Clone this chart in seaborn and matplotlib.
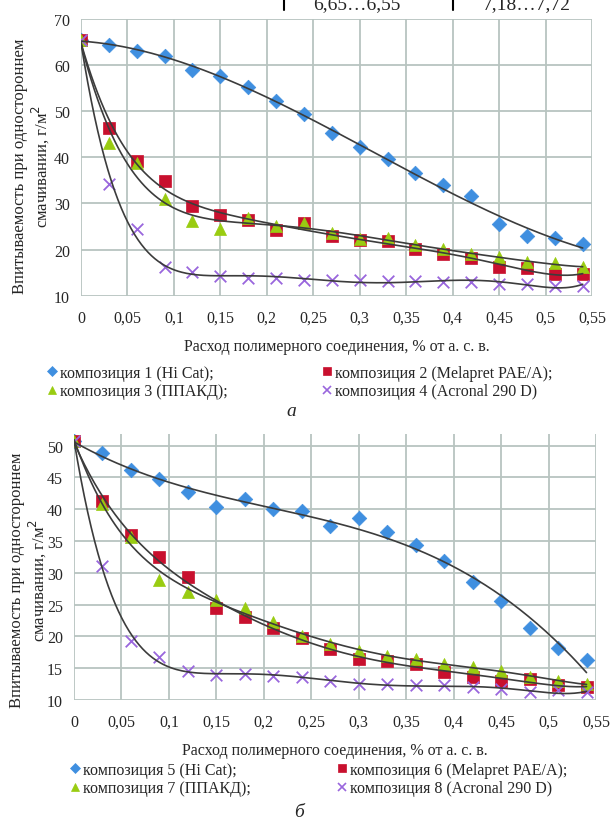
import numpy as np
import pandas as pd
import matplotlib
matplotlib.use("Agg")
import matplotlib.pyplot as plt
import seaborn as sns
from matplotlib.lines import Line2D

sns.set_style("white")
plt.rcParams['font.family'] = ['Liberation Serif', 'DejaVu Serif']

# Расход полимерного соединения, % от а. с. в.
x_vals = [0, 0.03, 0.06, 0.09, 0.12, 0.15, 0.18, 0.21, 0.24, 0.27,
          0.30, 0.33, 0.36, 0.39, 0.42, 0.45, 0.48, 0.51, 0.54]

# panel а
comp1 = [65.5, 64.4, 63.1, 62.0, 59.0, 57.6, 55.3, 52.2, 49.3, 45.3,
         42.2, 39.7, 36.6, 34.1, 31.7, 25.6, 23.0, 22.4, 21.3]
comp2 = [65.5, 46.4, 39.1, 34.8, 29.5, 27.4, 26.5, 24.2, 25.8, 22.9,
         22.0, 21.8, 20.2, 19.1, 18.2, 16.2, 15.9, 14.8, 14.6]
comp3 = [65.5, 43.1, 38.8, 31.0, 26.2, 24.5, 26.8, 25.2, 25.8, 23.6,
         22.2, 22.4, 21.0, 20.2, 19.1, 18.4, 17.3, 17.0, 16.2]
comp4 = [65.5, 34.3, 24.5, 16.2, 15.1, 14.3, 13.8, 13.8, 13.5, 13.3,
         13.3, 13.2, 13.2, 13.0, 13.0, 12.6, 12.6, 12.2, 12.2]

# panel б
comp5 = [50.8, 48.85, 46.2, 44.8, 42.7, 40.3, 41.6, 40.05, 39.8, 37.4,
         38.7, 36.4, 34.3, 31.9, 28.6, 25.5, 21.3, 18.15, 16.35]
comp6 = [50.8, 41.35, 36.0, 32.45, 29.3, 24.5, 23.0, 21.3, 19.7, 18.0,
         16.5, 16.2, 15.7, 14.4, 13.6, 13.05, 13.3, 12.3, 12.0]
comp7 = [50.8, 40.8, 35.6, 28.9, 26.95, 25.8, 24.4, 22.2, 20.1, 18.8,
         17.75, 16.95, 16.45, 15.7, 15.15, 14.6, 13.6, 13.05, 12.5]
comp8 = [50.8, 31.1, 19.25, 16.8, 14.5, 13.95, 14.1, 13.85, 13.6, 13.05,
         12.5, 12.5, 12.3, 12.3, 12.0, 11.75, 11.2, 11.5, 11.2]

names_a = ['композиция 1 (Hi Cat);', 'композиция 2 (Melapret PAE/A);',
           'композиция 3 (ППАКД);', 'композиция 4 (Acronal 290 D)']
names_b = ['композиция 5 (Hi Cat);', 'композиция 6 (Melapret PAE/A);',
           'композиция 7 (ППАКД);', 'композиция 8 (Acronal 290 D)']

x_ticks = [0, 0.05, 0.1, 0.15, 0.2, 0.25, 0.3, 0.35, 0.4, 0.45, 0.5, 0.55]
x_ticklabels = ['0', '0,05', '0,1', '0,15', '0,2', '0,25', '0,3', '0,35',
                '0,4', '0,45', '0,5', '0,55']

colors = ['#3f8fe0', '#c8102e', '#99cc11', '#9966dd']
markers = ['D', 's', '^', 'x']
msizes = [55, 75, 75, 70]
poly_deg = {'a': [3, 6, 6, 6], 'b': [3, 6, 6, 6]}

grid_c = '#b8c4c0'
FS = 11.5


def draw_panel(ax, series, degs, ylim, yticks, label_xy):
    for i, vals in enumerate(series):
        df = pd.DataFrame({'x': x_vals, 'y': vals})
        sns.scatterplot(data=df, x='x', y='y', ax=ax, marker=markers[i],
                        s=msizes[i], color=colors[i],
                        edgecolor=colors[i] if markers[i] != 'x' else None,
                        linewidth=1.3 if markers[i] == 'x' else 0.5,
                        zorder=3, legend=False)
        # polynomial trend line like in Excel
        p = np.polynomial.Polynomial.fit(x_vals, vals, degs[i])
        xs = np.linspace(x_vals[0], x_vals[-1], 300)
        sns.lineplot(x=xs, y=p(xs), ax=ax, color='#3c3c3c', lw=1.2,
                     zorder=4, legend=False)

    ax.set_xlim(0, 0.55)
    ax.set_ylim(*ylim)
    ax.set_xticks(x_ticks)
    ax.set_xticklabels(x_ticklabels)
    ax.set_yticks(yticks)
    ax.grid(True, color=grid_c, lw=1.3)
    for s in ax.spines.values():
        s.set_visible(False)
    ax.tick_params(axis='both', length=4, width=1.3, color=grid_c,
                   labelsize=FS, pad=4, direction='out')
    ax.tick_params(axis='x', pad=6)
    ax.set_xlabel('Расход полимерного соединения, % от а. с. в.',
                  fontsize=FS, labelpad=9)
    ax.set_ylabel('Впитываемость при одностороннем\nсмачивании, г/м$^2$',
                  fontsize=12, linespacing=1.05)
    ax.yaxis.set_label_coords(*label_xy)

    handles = [Line2D([], [], ls='none', marker=markers[i], color=colors[i],
                      markersize=6 if markers[i] != 'D' else 5,
                      markeredgewidth=1.2 if markers[i] == 'x' else 0.5)
               for i in range(4)]
    return handles


fig = plt.figure(figsize=(6.11, 8.2), dpi=100)
ax1 = fig.add_axes([81 / 611, 1 - 296.7 / 820, 511 / 611, 276.8 / 820])
ax2 = fig.add_axes([74 / 611, 1 - 701 / 820, 522 / 611, 265.8 / 820])

h1 = draw_panel(ax1, [comp1, comp2, comp3, comp4], poly_deg['a'],
                (10, 70), [10, 20, 30, 40, 50, 60, 70], (-0.059, 0.472))
h2 = draw_panel(ax2, [comp5, comp6, comp7, comp8], poly_deg['b'],
                (10, 51.8), [10, 15, 20, 25, 30, 35, 40, 45, 50], (-0.05, 0.455))

# legends: two columns, order 1,3 | 2,4
for handles, names, y0, x0, cs in [(h1, names_a, 1 - 366 / 820, 47 / 611, 5.93),
                                   (h2, names_b, 1 - 763 / 820, 70 / 611, 5.43)]:
    order = [0, 2, 1, 3]
    fig.legend([handles[k] for k in order], [names[k] for k in order],
               loc='upper left', bbox_to_anchor=(x0, y0), ncol=2,
               frameon=False, fontsize=FS, handlelength=0.6,
               handletextpad=0.2, columnspacing=cs, labelspacing=0.14,
               borderpad=0, borderaxespad=0)

fig.text(291 / 611, 1 - 412 / 820, 'а', fontsize=14, style='italic',
         ha='center', va='center')
fig.text(299 / 611, 1 - 813 / 820, 'б', fontsize=14, style='italic',
         ha='center', va='center')

# clipped table row at the very top
fig.text(357 / 611, 1 - 9 / 820, '6,65…6,55', fontsize=14, ha='center',
         va='baseline')
fig.text(527 / 611, 1 - 9 / 820, '7,18…7,72', fontsize=14, ha='center',
         va='baseline')
for xp in [284, 453]:
    fig.add_artist(Line2D([xp / 611, xp / 611], [1, 1 - 11 / 820],
                          color='black', lw=1.5))

fig.savefig('out.png', dpi=100)
